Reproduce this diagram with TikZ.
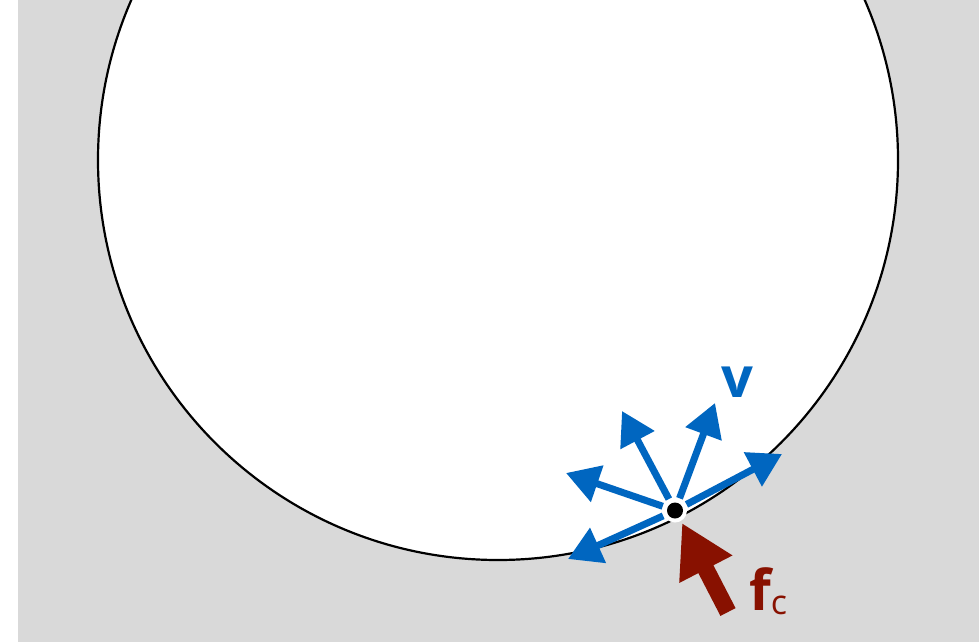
\documentclass[tikz,border=0pt]{standalone}
\usepackage{fontspec}
\setmainfont{Open Sans}
\usetikzlibrary{arrows.meta}
\definecolor{bgray}{RGB}{217,217,217}
\definecolor{vblue}{RGB}{0,102,192}
\definecolor{fred}{RGB}{136,17,0}
\tikzset{
  varrow/.style={vblue, line width=7pt, -{Triangle[length=33pt,width=37pt]}, shorten <=13pt},
  farrow/.style={fred, line width=17pt, -{Triangle[length=52pt,width=56pt]}},
}
\begin{document}
\begin{tikzpicture}[x=1pt,y=-1pt]
\useasboundingbox (0,0) rectangle (979,642);
\clip (0,0) rectangle (979,642);
\fill[bgray] (18,0) rectangle (979,642);
\draw[fill=white, line width=2.2pt] (498,160) circle[radius=400];
\coordinate (P) at (675,510.5);
\coordinate (t1) at (568,559);
\coordinate (t2) at (566,473);
\coordinate (t3) at (622,411);
\coordinate (t4) at (715,403);
\coordinate (t5) at (782,454);
\coordinate (ftail) at (728,612);
\coordinate (ftip) at (682,523);
\draw[varrow] (P) -- (t1);
\draw[varrow] (P) -- (t2);
\draw[varrow] (P) -- (t3);
\draw[varrow] (P) -- (t4);
\draw[varrow] (P) -- (t5);
\draw[farrow] (ftail) -- (ftip);
\fill[white] (P) circle[radius=12];
\fill[black] (P) circle[radius=8];
\node[vblue, font=\fontsize{56}{60}\selectfont\bfseries, inner sep=0pt] (v) at (737,382) {v};
\node[fred, inner sep=0pt, anchor=base west] (fc) at (749,610) {\fontsize{56}{60}\selectfont\bfseries f\raisebox{-4pt}{\fontsize{34}{36}\selectfont\mdseries c}};
\end{tikzpicture}
\end{document}
